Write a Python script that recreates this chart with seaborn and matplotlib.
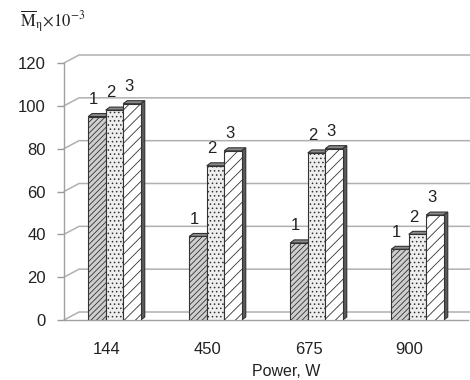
import numpy as np
import pandas as pd
import matplotlib
matplotlib.use('Agg')
import matplotlib.pyplot as plt
import seaborn as sns
from matplotlib.patches import Polygon
from matplotlib.transforms import IdentityTransform, ScaledTranslation

# values
power = ['144', '450', '675', '900']
samples = ['1', '2', '3']
m_1 = [95, 39, 36, 33]
m_2 = [98, 72, 78, 40]
m_3 = [101, 79, 80, 49]
yticks = [0, 20, 40, 60, 80, 100, 120]

df = pd.DataFrame({'power': power * 3,
                   'sample': np.repeat(samples, len(power)),
                   'M': m_1 + m_2 + m_3})

sns.set_theme(style='white')
plt.rcParams['font.family'] = ['Liberation Sans', 'DejaVu Sans']
plt.rcParams['mathtext.fontset'] = 'stix'
plt.rcParams['hatch.linewidth'] = 0.6

fig = plt.figure(figsize=(4.7, 3.8), dpi=100)
ax = fig.add_axes([64 / 470, 60 / 380, 404 / 470, 257 / 380])

fills = ['#cfcfcf', '#eeeeee', '#ffffff']
hatches = ['//////', '....', '///']
sns.barplot(data=df, x='power', y='M', hue='sample', palette=fills, width=0.52,
            edgecolor='#333333', linewidth=0.8, saturation=1, ax=ax,
            legend=False, zorder=3)

ax.set_xlim(-0.5, 3.5)
ax.set_ylim(0, 120)
ax.set_yticks(yticks)
ax.set_xlabel('Power, W', fontsize=11.5, color='#222222')
ax.xaxis.set_label_coords(0.55, -0.172)
ax.set_ylabel('')
ax.tick_params(axis='x', length=0, pad=16, labelsize=12, labelcolor='#222222')
ax.tick_params(axis='y', length=5, width=1, color='#999999', pad=8,
               labelsize=12, labelcolor='#222222', left=True)
for lab in ax.get_xticklabels():
    lab.set_transform(lab.get_transform() + ScaledTranslation(-0.08, 0, fig.dpi_scale_trans))

for s in ['top', 'right']:
    ax.spines[s].set_visible(False)
for s in ['left', 'bottom']:
    ax.spines[s].set_color('#a0a0a0')
    ax.spines[s].set_linewidth(1)

# pseudo 3D back wall with gridlines
wall_dx, wall_dy = 15, 8
x_right = ax.transAxes.transform((1, 0))[0]
for v in yticks:
    x0, y0 = ax.transData.transform((-0.5, v))
    ax.plot([x0, x0 + wall_dx, x_right + wall_dx], [y0, y0 + wall_dy, y0 + wall_dy],
            transform=IdentityTransform(), color='#b0b0b0', lw=1.1, zorder=1, clip_on=False)

# bar depth faces and labels
bar_dx, bar_dy = 4, 3
for cont, hatch, name in zip(ax.containers, hatches, samples):
    for p in cont:
        p.set_hatch(hatch)
        (xa, ya), (xb, yb) = ax.transData.transform(
            [(p.get_x(), 0), (p.get_x() + p.get_width(), p.get_height())])
        top = Polygon([(xa, yb), (xb, yb), (xb + bar_dx, yb + bar_dy), (xa + bar_dx, yb + bar_dy)],
                      closed=True, facecolor='#8a8a8a', edgecolor='#333333', lw=0.8,
                      transform=IdentityTransform(), zorder=2.5)
        side = Polygon([(xb, ya), (xb + bar_dx, ya + bar_dy), (xb + bar_dx, yb + bar_dy), (xb, yb)],
                       closed=True, facecolor='#5a5a5a', edgecolor='#333333', lw=0.8,
                       transform=IdentityTransform(), zorder=2.5)
        ax.add_patch(top)
        ax.add_patch(side)
        ax.annotate(name, xy=(p.get_x() + p.get_width() * 0.3, p.get_height()),
                    xytext=(0, 7), textcoords='offset points', ha='center', va='bottom',
                    fontsize=12, color='#222222', zorder=4)

fig.text(20 / 470, 1 - 8 / 380, r'$\overline{\mathrm{M}}_{\mathrm{\eta}}\!\times\!10^{-3}$',
         fontsize=12, va='top', ha='left', color='#222222')

fig.savefig('out.png', dpi=100)
